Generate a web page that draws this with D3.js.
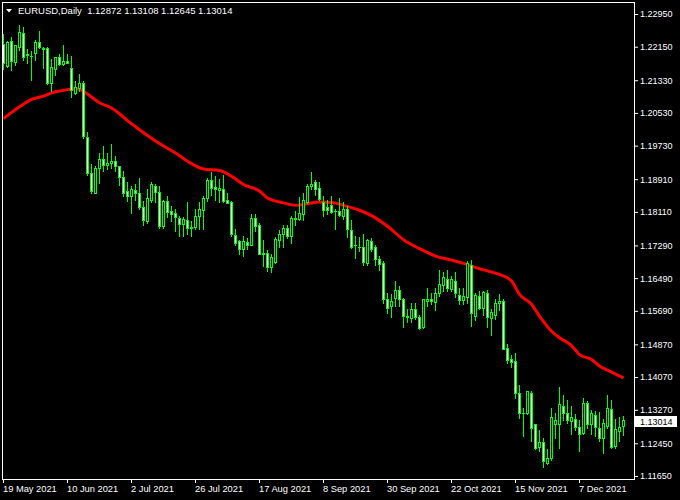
<!DOCTYPE html>
<html><head><meta charset="utf-8">
<script src="https://cdn.jsdelivr.net/npm/d3@7"></script>
<style>html,body{margin:0;padding:0;background:#000;} svg{display:block;}</style>
</head><body>
<svg id="c" width="680" height="500"></svg>
<script>
const symbol = "EURUSD,Daily";
const opens = [1.2222,1.2167,1.2229,1.2177,1.2214,1.2249,1.2195,1.2193,1.2200,1.2227,
1.2213,1.2211,1.2126,1.2161,1.2190,1.2172,1.2180,1.2163,1.2102,1.2115,
1.2126,1.1994,1.1907,1.1858,1.1919,1.1941,1.1925,1.1931,1.1936,1.1923,
1.1897,1.1861,1.1849,1.1864,1.1858,1.1823,1.1788,1.1840,1.1875,1.1860,
1.1776,1.1837,1.1814,1.1809,1.1796,1.1781,1.1792,1.1773,1.1773,1.1802,
1.1815,1.1844,1.1890,1.1872,1.1864,1.1867,1.1839,1.1836,1.1755,1.1739,
1.1721,1.1738,1.1730,1.1797,1.1780,1.1708,1.1711,1.1676,1.1689,1.1743,
1.1756,1.1772,1.1751,1.1796,1.1794,1.1807,1.1835,1.1874,1.1884,1.1870,
1.1835,1.1823,1.1827,1.1813,1.1813,1.1802,1.1818,1.1766,1.1730,1.1726,
1.1726,1.1685,1.1739,1.1726,1.1696,1.1685,1.1599,1.1580,1.1601,1.1621,
1.1599,1.1556,1.1552,1.1574,1.1555,1.1530,1.1594,1.1599,1.1590,1.1612,
1.1631,1.1647,1.1623,1.1643,1.1607,1.1595,1.1603,1.1680,1.1557,1.1605,
1.1577,1.1613,1.1552,1.1560,1.1587,1.1594,1.1479,1.1450,1.1446,1.1369,
1.1320,1.1320,1.1369,1.1291,1.1236,1.1249,1.1196,1.1208,1.1291,1.1291,
1.1335,1.1320,1.1299,1.1304,1.1286,1.1269,1.1343,1.1293,1.1313,1.1283,
1.1259,1.1287,1.1330,1.1238,1.1275,1.12872];
const highs = [1.2247,1.2230,1.2239,1.2220,1.2267,1.2263,1.2210,1.2205,1.2232,1.2254,
1.2214,1.2214,1.2185,1.2191,1.2196,1.2218,1.2196,1.2193,1.2131,1.2149,
1.2130,1.2007,1.1927,1.1923,1.1955,1.1971,1.1955,1.1976,1.1947,1.1924,
1.1910,1.1885,1.1874,1.1880,1.1894,1.1837,1.1867,1.1884,1.1880,1.1875,
1.1840,1.1851,1.1825,1.1818,1.1802,1.1799,1.1834,1.1788,1.1818,1.1834,
1.1851,1.1894,1.1908,1.1898,1.1892,1.1900,1.1858,1.1837,1.1770,1.1743,
1.1751,1.1748,1.1805,1.1805,1.1784,1.1743,1.1717,1.1707,1.1750,1.1766,
1.1778,1.1780,1.1802,1.1813,1.1847,1.1858,1.1878,1.1909,1.1890,1.1885,
1.1851,1.1840,1.1851,1.1817,1.1845,1.1835,1.1825,1.1791,1.1751,1.1750,
1.1756,1.1745,1.1748,1.1729,1.1703,1.1690,1.1612,1.1609,1.1642,1.1629,
1.1601,1.1574,1.1587,1.1587,1.1560,1.1599,1.1625,1.1613,1.1625,1.1670,
1.1663,1.1668,1.1655,1.1665,1.1625,1.1625,1.1690,1.1693,1.1613,1.1617,
1.1617,1.1619,1.1574,1.1599,1.1609,1.1597,1.1489,1.1462,1.1465,1.1387,
1.1332,1.1374,1.1374,1.1292,1.1277,1.1259,1.1230,1.1332,1.1320,1.1383,
1.1362,1.1350,1.1335,1.1316,1.1302,1.1357,1.1348,1.1326,1.1324,1.1321,
1.1304,1.1362,1.1350,1.1305,1.1310,1.13108];
const lows = [1.2161,1.2166,1.2159,1.2171,1.2208,1.2183,1.2175,1.2133,1.2182,1.2213,
1.2163,1.2125,1.2106,1.2147,1.2171,1.2170,1.2174,1.2092,1.2100,1.2106,
1.1992,1.1902,1.1858,1.1856,1.1882,1.1910,1.1915,1.1919,1.1910,1.1876,
1.1849,1.1837,1.1809,1.1841,1.1817,1.1780,1.1783,1.1835,1.1835,1.1772,
1.1772,1.1799,1.1788,1.1764,1.1753,1.1751,1.1756,1.1753,1.1770,1.1770,
1.1770,1.1837,1.1853,1.1839,1.1835,1.1834,1.1832,1.1753,1.1731,1.1709,
1.1704,1.1719,1.1729,1.1764,1.1707,1.1678,1.1666,1.1664,1.1686,1.1726,
1.1726,1.1748,1.1734,1.1780,1.1790,1.1792,1.1832,1.1866,1.1853,1.1841,
1.1800,1.1805,1.1809,1.1768,1.1800,1.1794,1.1750,1.1723,1.1699,1.1715,
1.1682,1.1682,1.1715,1.1682,1.1670,1.1587,1.1564,1.1555,1.1580,1.1580,
1.1530,1.1541,1.1541,1.1548,1.1524,1.1527,1.1582,1.1585,1.1571,1.1605,
1.1617,1.1617,1.1617,1.1603,1.1585,1.1585,1.1589,1.1533,1.1546,1.1574,
1.1560,1.1530,1.1511,1.1548,1.1571,1.1475,1.1442,1.1432,1.1357,1.1308,
1.1263,1.1316,1.1251,1.1230,1.1226,1.1188,1.1194,1.1204,1.1259,1.1234,
1.1302,1.1295,1.1267,1.1277,1.1226,1.1267,1.1283,1.1267,1.1263,1.1251,
1.1222,1.1282,1.1234,1.1233,1.1251,1.12645];
const closes = [1.2175,1.2227,1.2179,1.2218,1.2252,1.2191,1.2197,1.2192,1.2227,1.2214,
1.2210,1.2126,1.2166,1.2190,1.2172,1.2180,1.2175,1.2110,1.2117,1.2126,
1.1996,1.1907,1.1862,1.1919,1.1941,1.1925,1.1931,1.1936,1.1923,1.1897,
1.1858,1.1849,1.1867,1.1858,1.1823,1.1791,1.1845,1.1878,1.1859,1.1776,
1.1837,1.1810,1.1807,1.1799,1.1781,1.1794,1.1771,1.1772,1.1802,1.1817,
1.1844,1.1888,1.1869,1.1866,1.1870,1.1837,1.1833,1.1758,1.1735,1.1719,
1.1741,1.1730,1.1797,1.1777,1.1708,1.1711,1.1676,1.1701,1.1745,1.1758,
1.1772,1.1751,1.1796,1.1794,1.1809,1.1840,1.1875,1.1880,1.1867,1.1843,
1.1815,1.1815,1.1810,1.1812,1.1804,1.1817,1.1770,1.1726,1.1729,1.1725,
1.1688,1.1742,1.1719,1.1696,1.1683,1.1599,1.1577,1.1593,1.1620,1.1599,
1.1556,1.1555,1.1574,1.1555,1.1528,1.1597,1.1599,1.1594,1.1612,1.1634,
1.1652,1.1625,1.1646,1.1612,1.1595,1.1605,1.1685,1.1564,1.1607,1.1577,
1.1615,1.1555,1.1566,1.1589,1.1594,1.1476,1.1449,1.1444,1.1369,1.1320,
1.1319,1.1373,1.1283,1.1234,1.1249,1.1202,1.1210,1.1310,1.1302,1.1340,
1.1320,1.1302,1.1310,1.1285,1.1267,1.1343,1.1293,1.1318,1.1285,1.1259,
1.1295,1.1332,1.1236,1.1279,1.1286,1.13014];
const maIndex = [0,4,7,10,12,16,18,20,22,24,27,29,31,34,39,43,47,50,54,57,60,64,66,70,73,76,79,82,85,89,92,96,100,104,108,112,115,119,122,124,127,129,132,134,137,139,142,144,147,149,152,155];
const maValues = [1.2039,1.2068,1.2086,1.2094,1.2102,1.2110,1.2113,1.2106,1.2092,1.2078,1.2065,1.2051,1.2034,1.2012,1.1978,1.1955,1.1929,1.1916,1.1912,1.1898,1.1878,1.1862,1.1845,1.1833,1.1827,1.1831,1.1835,1.1834,1.1827,1.1815,1.1802,1.1776,1.1743,1.1721,1.1703,1.1693,1.1685,1.1672,1.1664,1.1658,1.1642,1.1609,1.1585,1.1556,1.1519,1.1503,1.1484,1.1462,1.1450,1.1434,1.1419,1.1405];
const yTicks = [1.22950,1.22150,1.21330,1.20530,1.19730,1.18910,1.18110,1.17290,1.16490,1.15690,1.14870,1.14070,1.13270,1.12450,1.11650];
const xTickIndex = [0,16,32,48,64,80,96,112,128,144];
const xTickLabels = ["19 May 2021","10 Jun 2021","2 Jul 2021","26 Jul 2021","17 Aug 2021","8 Sep 2021","30 Sep 2021","22 Oct 2021","15 Nov 2021","7 Dec 2021"];

const FONT = "'Liberation Sans', Arial, sans-serif";
const svg = d3.select("#c");
svg.append("rect").attr("width",680).attr("height",500).attr("fill","#000");

const n = opens.length;
const x = d3.scaleLinear().domain([0, n-1]).range([3, 3 + 4*(n-1)]);
const y = d3.scaleLinear().domain([yTicks[yTicks.length-1], yTicks[0]]).range([476, 14]);

// moving average
const maLine = d3.line().x(d => x(d[0]) + 0.5).y(d => y(d[1])).curve(d3.curveMonotoneX);
svg.append("path").datum(maIndex.map((d,i)=>[d, maValues[i]]))
  .attr("d", maLine).attr("fill","none").attr("stroke","#ff0000").attr("stroke-width",3);

// candles
const candles = svg.append("g").attr("shape-rendering","crispEdges");
const data = d3.range(n).map(i => ({i, o:opens[i], h:highs[i], l:lows[i], c:closes[i]}));
const G = candles.selectAll("g").data(data).join("g");
G.append("rect")
  .attr("x", d => x(d.i))
  .attr("y", d => Math.round(y(d.h)))
  .attr("width", 1)
  .attr("height", d => Math.max(1, Math.round(y(d.l)) - Math.round(y(d.h)) + 1))
  .attr("fill", "#00ff00");
G.append("rect")
  .attr("x", d => x(d.i) - 1)
  .attr("y", d => Math.round(y(Math.max(d.o,d.c))))
  .attr("width", 3)
  .attr("height", d => Math.max(1, Math.round(y(Math.min(d.o,d.c))) - Math.round(y(Math.max(d.o,d.c))) + 1))
  .attr("fill", "#00ff00");
G.filter(d => Math.round(y(Math.min(d.o,d.c))) - Math.round(y(Math.max(d.o,d.c))) >= 2)
  .append("rect")
  .attr("x", d => x(d.i))
  .attr("y", d => Math.round(y(Math.max(d.o,d.c))) + 1)
  .attr("width", 1)
  .attr("height", d => Math.round(y(Math.min(d.o,d.c))) - Math.round(y(Math.max(d.o,d.c))) - 1)
  .attr("fill", d => d.c > d.o ? "#000000" : "#ffffff");

// frame
svg.append("rect").attr("x",2.5).attr("y",2.5).attr("width",632).attr("height",477)
  .attr("fill","none").attr("stroke","#ffffff").attr("stroke-width",1).attr("shape-rendering","crispEdges");

// y axis
const yAxis = svg.append("g").attr("transform","translate(634,0)")
  .call(d3.axisRight(y).tickValues(yTicks).tickFormat(d3.format(".5f")).tickSize(4).tickPadding(2));
yAxis.select(".domain").remove();
yAxis.selectAll("line").attr("stroke","#fff");
yAxis.selectAll("text").attr("fill","#fff").style("font-family",FONT).style("font-size","9px");

// x axis
const xAxis = svg.append("g").attr("transform","translate(0,479)")
  .call(d3.axisBottom(x).tickValues(xTickIndex).tickFormat((d,i)=>xTickLabels[i]).tickSize(4).tickPadding(2));
xAxis.select(".domain").remove();
xAxis.selectAll("line").attr("stroke","#fff");
xAxis.selectAll("text").attr("fill","#fff").attr("text-anchor","start").attr("x",-0.5)
  .style("font-family",FONT).style("font-size","9.3px");

// current price label
const last = n-1;
const yc = Math.round(y(closes[last]));
svg.append("rect").attr("x",635).attr("y",yc-4).attr("width",42).attr("height",11).attr("fill","#fff");
svg.append("text").attr("x",640).attr("y",yc+5).attr("fill","#000")
  .style("font-family",FONT).style("font-size","9px").text(d3.format(".5f")(closes[last]));

// header
svg.append("path").attr("d","M6,9 L12,9 L9,12.5 Z").attr("fill","#fff");
const fmt = d3.format(".5f");
svg.append("text").attr("x",18).attr("y",13.5).attr("fill","#fff")
  .style("font-family",FONT).style("font-size","9.5px").style("white-space","pre")
  .text(symbol + "  " + [opens[last],highs[last],lows[last],closes[last]].map(fmt).join(" "));
</script>
</body></html>
